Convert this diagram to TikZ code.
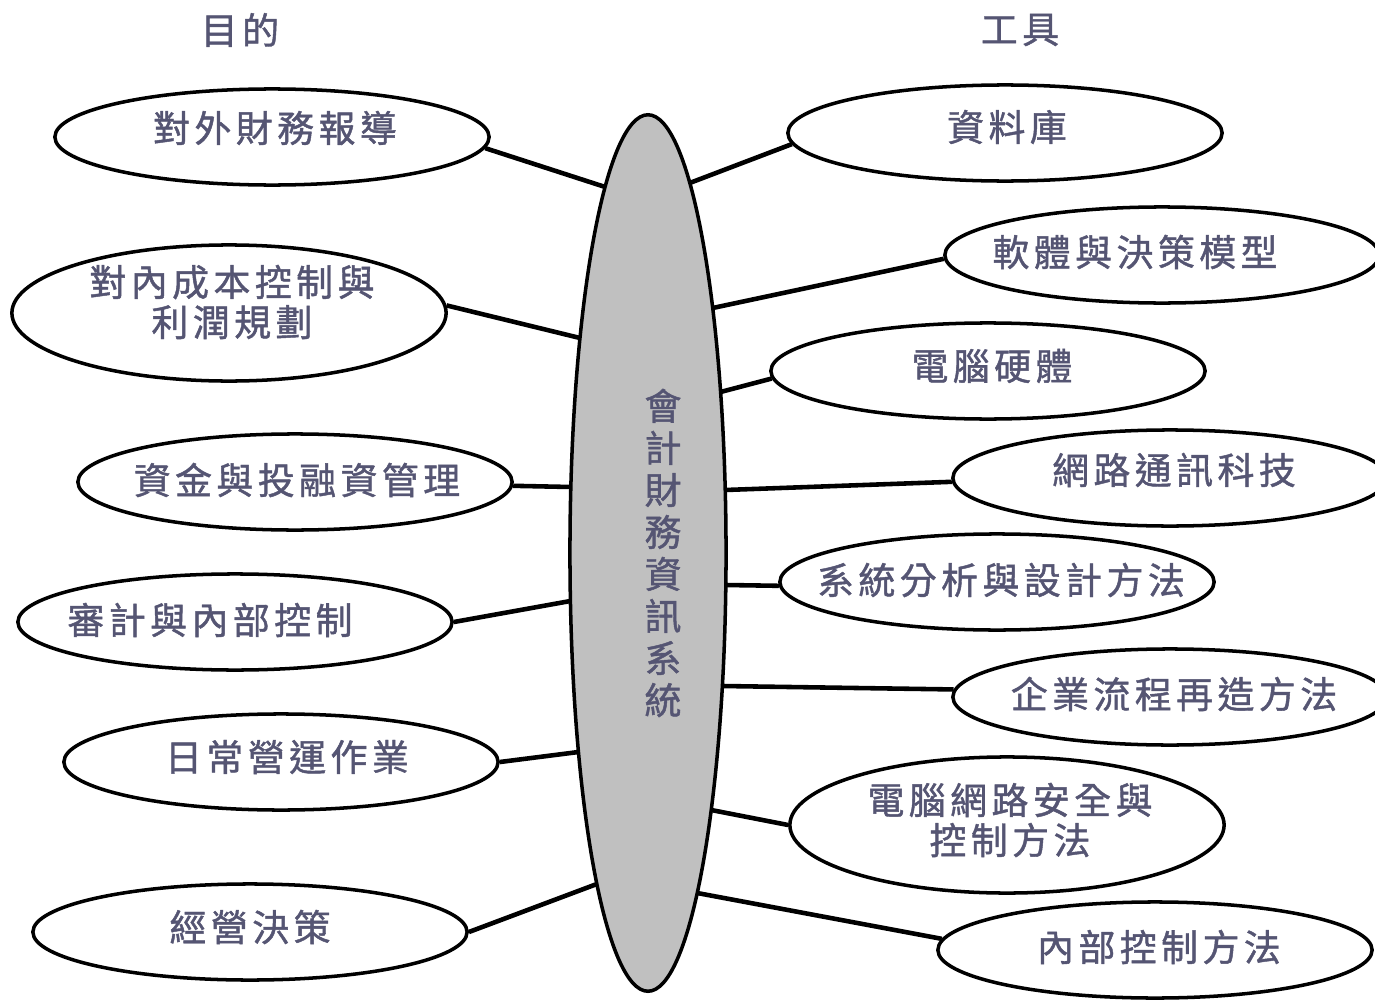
\documentclass[tikz,border=0pt]{standalone}
\usepackage{fontspec}
\newfontfamily\cjk[LetterSpace=12,FakeBold=1.2]{Noto Sans CJK TC}
\usetikzlibrary{shapes.geometric}
\definecolor{txt}{RGB}{85,85,115}
\definecolor{hub}{RGB}{192,192,192}
\begin{document}
\begin{tikzpicture}[x=0.01cm,y=-0.01cm,
  bubble/.style={draw=black,line width=1pt,ellipse,fill=white,minimum width=4.34cm,minimum height=0.96cm,inner sep=0pt},
  tall/.style={bubble,minimum height=1.36cm},
  lbl/.style={text=txt,font=\cjk\fontsize{10.5}{11.4}\selectfont,align=center,inner sep=0pt},
  link/.style={line width=1.3pt}]
\useasboundingbox (0,0) rectangle (1375,1000);

% headers
\node[lbl] (hl) at (240,30) {目的};
\node[lbl] (hr) at (1020,30) {工具};

% hub
\node[draw=black,line width=1pt,ellipse,fill=hub,minimum width=1.56cm,minimum height=8.76cm,inner sep=0pt] (c) at (648,553) {};
\node[lbl,font=\cjk\fontsize{10.5}{11.95}\selectfont] (ct) at (663,553) {會\\計\\財\\務\\資\\訊\\系\\統};

% left bubbles
\node[bubble] (l1) at (272,137) {};
\node[tall]   (l2) at (229,313) {};
\node[bubble] (l3) at (295,482) {};
\node[bubble] (l4) at (235,622) {};
\node[bubble] (l5) at (281,762) {};
\node[bubble] (l6) at (250,932) {};

\node[lbl] (t1) at (275,128) {對外財務報導};
\node[lbl] (t2) at (232,302) {對內成本控制與\\利潤規劃};
\node[lbl] (t3) at (297,480) {資金與投融資管理};
\node[lbl] (t4) at (210,620) {審計與內部控制};
\node[lbl] (t5) at (287,757) {日常營運作業};
\node[lbl] (t6) at (250,927) {經營決策};

% right bubbles
\node[bubble] (r1) at (1005,133) {};
\node[bubble] (r2) at (1162,255) {};
\node[bubble] (r3) at (988,371) {};
\node[bubble] (r4) at (1170,478) {};
\node[bubble] (r5) at (997,582) {};
\node[bubble] (r6) at (1170,697) {};
\node[tall]   (r7) at (1007,825) {};
\node[bubble] (r8) at (1155,950) {};

\node[lbl] (u1) at (1007,127) {資料庫};
\node[lbl] (u2) at (1135,252) {軟體與決策模型};
\node[lbl] (u3) at (992,366) {電腦硬體};
\node[lbl] (u4) at (1174,470) {網路通訊科技};
\node[lbl] (u5) at (1001,580) {系統分析與設計方法};
\node[lbl] (u6) at (1174,694) {企業流程再造方法};
\node[lbl] (u7) at (1010,820) {電腦網路安全與\\控制方法};
\node[lbl] (u8) at (1159,947) {內部控制方法};

% connectors
\draw[link] (l1.-3)   -- ([shift={(-42.8,-366)}]c.center);
\draw[link] (l2.2)    -- ([shift={(-68,-215)}]c.center);
\draw[link] (l3.-1)   -- ([shift={(-77.1,-66)}]c.center);
\draw[link] (l4.0)    -- ([shift={(-77.5,48)}]c.center);
\draw[link] (l5.0)    -- ([shift={(-69.5,199)}]c.center);
\draw[link] (l6.0)    -- ([shift={(-51.1,331)}]c.center);

\draw[link] (r1.183.5) -- ([shift={(41.7,-370)}]c.center);
\draw[link] (r2.181)   -- ([shift={(64.7,-245)}]c.center);
\draw[link] (r3.182.4) -- ([shift={(72.5,-161)}]c.center);
\draw[link] (r4.181)   -- ([shift={(77.2,-63)}]c.center);
\draw[link] (r5.181.3) -- ([shift={(77.8,32)}]c.center);
\draw[link] (r6.178)   -- ([shift={(74.3,133)}]c.center);
\draw[link] (r7.180)   -- ([shift={(63.2,257)}]c.center);
\draw[link] (r8.177.3) -- ([shift={(49.2,340)}]c.center);
\end{tikzpicture}
\end{document}
